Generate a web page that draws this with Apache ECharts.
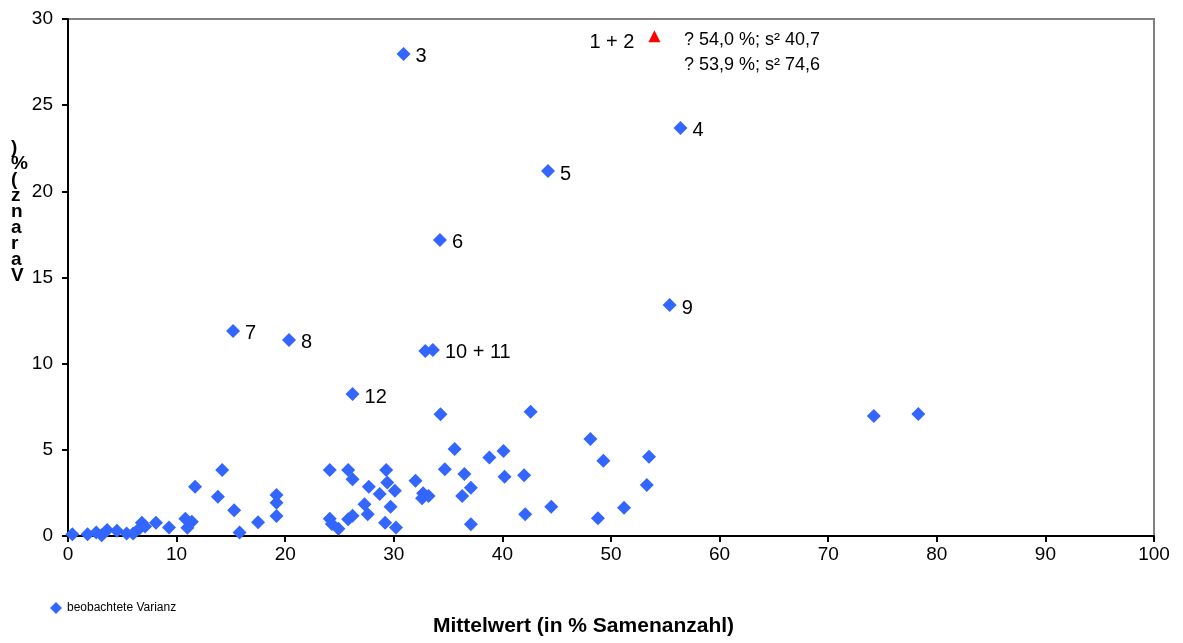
<!DOCTYPE html>
<html><head><meta charset="utf-8">
<script src="https://cdn.jsdelivr.net/npm/echarts@6/dist/echarts.min.js"></script>
<style>html,body{margin:0;padding:0;background:#fff}#c{width:1183px;height:643px}</style>
</head><body><div id="c"></div>
<script>
// Observed variance points (unlabelled)
const obsX = [0.4,1.8,2.6,3.1,3.6,4.5,5.4,6.0,6.8,6.6,7.1,8.1,9.3,10.8,11.4,11.0,11.7,13.8,14.2,15.3,15.8,17.5,19.2,19.2,19.2,
  24.1,24.1,24.3,24.9,25.8,26.2,25.8,26.2,27.7,28.7,29.3,29.4,30.1,27.3,27.6,29.2,29.7,30.2,
  32.0,32.7,33.2,32.6,34.3,34.7,35.6,36.5,37.1,36.3,37.1,38.8,40.1,40.2,42.6,42.0,42.1,44.5,
  48.1,49.3,48.8,51.2,53.5,53.3,74.2,78.3];
const obsY = [0.1,0.1,0.2,0.05,0.35,0.3,0.15,0.15,0.77,0.45,0.55,0.77,0.5,1.0,0.83,0.48,2.86,2.28,3.83,1.5,0.2,0.8,2.38,1.93,1.16,
  3.83,1.0,0.7,0.42,3.83,3.29,0.97,1.18,2.86,2.44,3.83,3.1,2.63,1.84,1.26,0.77,1.7,0.5,
  3.21,2.48,2.32,2.19,7.06,3.87,5.05,3.6,2.8,2.32,0.68,4.55,4.93,3.44,7.21,3.52,1.26,1.7,
  5.63,4.37,1.03,1.64,4.6,2.96,6.96,7.08];
// Numbered points
const numX = [30.9,56.4,44.2,34.25,15.2,20.35,55.4,32.9,33.6,26.2];
const numY = [27.97,23.68,21.18,17.18,11.9,11.38,13.4,10.74,10.8,8.24];
const numLabels = ['3','4','5','6','7','8','9','','10 + 11','12'];
// Points 1 + 2
const pairX = [54.0];
const pairY = [29.0];
const pairLabel = '1 + 2';
const pairNotes = ['? 54,0 %; s² 40,7', '? 53,9 %; s² 74,6'];
const xTicks = [0,10,20,30,40,50,60,70,80,90,100];
const yTicks = [0,5,10,15,20,25,30];
const yTitleChars = [')','%','(','z','n','a','r','a','V'];

const chart = echarts.init(document.getElementById('c'));
const FONT = '"Liberation Sans", Arial, sans-serif';
const blue = '#3366ff';
const obsData = obsX.map((x,i)=>[x,obsY[i]]);
const numData = numX.map((x,i)=>({value:[x,numY[i]], label:{show: numLabels[i]!=='', formatter: numLabels[i]}}));

chart.setOption({
  animation:false,
  backgroundColor:'#fff',
  grid:{left:68,right:29,top:19,bottom:107,show:true,borderColor:'#808080',borderWidth:2},
  xAxis:{type:'value',min:0,max:100,interval:10,
    axisLine:{show:true,onZero:false,lineStyle:{color:'#000',width:2}},
    axisTick:{show:true,length:6,lineStyle:{color:'#000',width:2}},
    axisLabel:{color:'#000',fontSize:19,fontFamily:FONT,margin:9,formatter:v=>xTicks.includes(v)?String(v):''},
    splitLine:{show:false}},
  yAxis:{type:'value',min:0,max:30,interval:5,
    axisLine:{show:true,onZero:false,lineStyle:{color:'#000',width:2}},
    axisTick:{show:true,length:6,lineStyle:{color:'#000',width:2}},
    axisLabel:{color:'#000',fontSize:19,fontFamily:FONT,margin:15,formatter:v=>yTicks.includes(v)?String(v):''},
    splitLine:{show:false}},
  legend:{show:true,left:45,top:597,itemWidth:12,itemHeight:12,itemGap:10,
    textStyle:{fontSize:12,fontFamily:FONT,color:'#000'},
    data:[{name:'beobachtete Varianz',icon:'diamond'}]},
  graphic:[
    {type:'text',left:433,top:616,style:{text:'Mittelwert (in % Samenanzahl)',font:'bold 21px '+FONT,fill:'#000'}},
    {type:'text',left:684,top:31,style:{text:pairNotes[0],font:'18px '+FONT,fill:'#000'}},
    {type:'text',left:684,top:56,style:{text:pairNotes[1],font:'18px '+FONT,fill:'#000'}},
    {type:'text',left:11,top:138,style:{text:yTitleChars.join('\n'),font:'bold 19px '+FONT,fill:'#000',lineHeight:16,align:'left'}}
  ],
  series:[
    {name:'beobachtete Varianz',type:'scatter',symbol:'diamond',symbolSize:14,
      itemStyle:{color:blue,opacity:1},data:obsData,z:3},
    {name:'nummeriert',type:'scatter',symbol:'diamond',symbolSize:14,itemStyle:{color:blue,opacity:1},
      label:{show:true,position:'right',distance:5,color:'#000',fontSize:20,fontFamily:FONT,offset:[0,3]},
      data:numData,z:3},
    {name:'1 + 2',type:'scatter',symbol:'triangle',symbolSize:12,itemStyle:{color:'#ff0000',opacity:1},
      label:{show:true,position:'left',distance:14,color:'#000',fontSize:20,fontFamily:FONT,formatter:pairLabel,offset:[0,6]},
      data:pairX.map((x,i)=>[x,pairY[i]]),z:4}
  ]
});
</script></body></html>
